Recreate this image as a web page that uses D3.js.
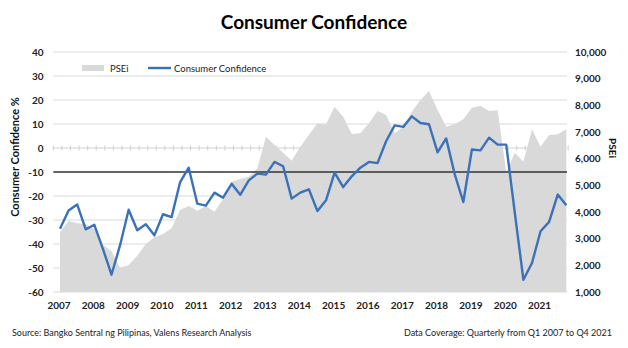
<!DOCTYPE html>
<html>
<head>
<meta charset="utf-8">
<script src="https://cdn.jsdelivr.net/npm/d3@7"></script>
<style>
  body { margin: 0; background: #fff; }
  svg { font-family: Lato, "Open Sans", sans-serif; }
</style>
</head>
<body>
<svg id="chart" width="628" height="348"></svg>
<script>
// quarterly data, Q1 2007 .. Q4 2021
var years = ["2007","2008","2009","2010","2011","2012","2013","2014","2015","2016","2017","2018","2019","2020","2021"];

var confidence = [
  -33.6, -26, -23.5, -33.9,
  -32, -42, -52.8, -40.5,
  -25.7, -34.3, -31.8, -36.4,
  -27.6, -28.8, -14.2, -8.2,
  -23.2, -24, -18.6, -20.7,
  -14.9, -19.5, -13.5, -10.7,
  -11.1, -5.8, -7.6, -21.1,
  -18.6, -17.2, -26.3, -21.8,
  -10.3, -16.3, -11.8, -8.2,
  -5.8, -6.3, 2.8, 9.4,
  8.8, 13.2, 10.4, 9.9,
  -1.8, 4.0, -11, -22.5,
  -0.6, -1, 4.3, 1.4,
  1.4, -27, -54.9, -47.9,
  -34.7, -30.8, -19.4, -23.9
];

var psei = [
  3250, 3662, 3575, 3550,
  3362, 2762, 2537, 1913,
  2012, 2362, 2800, 3050,
  3175, 3387, 4075, 4225,
  4050, 4225, 4012, 4475,
  5137, 5237, 5325, 5637,
  6825, 6512, 6225, 5925,
  6450, 6887, 7325, 7287,
  7950, 7575, 6925, 6950,
  7325, 7787, 7637, 6950,
  7200, 7762, 8200, 8537,
  7825, 7200, 7287, 7475,
  7912, 7987, 7787, 7812,
  5500, 6225, 5887, 7100,
  6450, 6887, 6912, 7100
];

var leftTicks = [40, 30, 20, 10, 0, -10, -20, -30, -40, -50, -60];
var rightTicks = [1000, 2000, 3000, 4000, 5000, 6000, 7000, 8000, 9000, 10000];

var svg = d3.select("#chart");

var x = d3.scaleLinear().domain([0, confidence.length - 1]).range([60, 566.3]);
var yL = d3.scaleLinear().domain([-60, 40]).range([292, 52]);
var yR = d3.scaleLinear().domain([1000, 10000]).range([292, 52]);
var gridX0 = 53.3, gridX1 = 567;

// gridlines
svg.append("g").selectAll("line")
  .data(leftTicks.filter(function(d){ return d != 0 && d != -10; }))
  .enter().append("line")
  .attr("x1", gridX0).attr("x2", gridX1)
  .attr("y1", function(d){ return yL(d); }).attr("y2", function(d){ return yL(d); })
  .attr("stroke", "#d9d9d9").attr("stroke-width", 1);

// zero line with quarterly tick marks
svg.append("line")
  .attr("x1", gridX0).attr("x2", gridX1)
  .attr("y1", yL(0)).attr("y2", yL(0))
  .attr("stroke", "#d0d0d0").attr("stroke-width", 1);
var step = (x(1) - x(0));
svg.append("g").selectAll("line")
  .data(d3.range(confidence.length + 1))
  .enter().append("line")
  .attr("x1", function(d){ return gridX0 + d * step; })
  .attr("x2", function(d){ return gridX0 + d * step; })
  .attr("y1", yL(0) - 2.5).attr("y2", yL(0) + 2.5)
  .attr("stroke", "#d0d0d0").attr("stroke-width", 1);

// PSEi area
var area = d3.area()
  .x(function(d, i){ return x(i); })
  .y0(yR(1000))
  .y1(function(d){ return yR(d); });
svg.append("path")
  .datum(psei)
  .attr("d", area)
  .attr("fill", "#d9d9d9");

// -10 reference line
svg.append("line")
  .attr("x1", gridX0).attr("x2", gridX1)
  .attr("y1", yL(-10)).attr("y2", yL(-10))
  .attr("stroke", "#333").attr("stroke-width", 1.3);

// consumer confidence line
var line = d3.line()
  .x(function(d, i){ return x(i); })
  .y(function(d){ return yL(d); });
svg.append("path")
  .datum(confidence)
  .attr("d", line)
  .attr("fill", "none")
  .attr("stroke", "#3a72b9")
  .attr("stroke-width", 2.4)
  .attr("stroke-linejoin", "round");

// axes labels
svg.append("g").selectAll("text")
  .data(leftTicks).enter().append("text")
  .attr("x", 43.5).attr("y", function(d){ return yL(d) + 3.5; })
  .attr("text-anchor", "end")
  .attr("font-size", 10).attr("font-weight", "bold").attr("fill", "#222")
  .text(function(d){ return d; });

svg.append("g").selectAll("text")
  .data(rightTicks).enter().append("text")
  .attr("x", 575).attr("y", function(d){ return yR(d) + 3.5; })
  .attr("font-size", 10).attr("font-weight", "bold").attr("fill", "#222")
  .text(function(d){ return d3.format(",")(d); });

svg.append("g").selectAll("text")
  .data(years).enter().append("text")
  .attr("x", function(d, i){ return x(i * 4) - 1; })
  .attr("y", 309)
  .attr("text-anchor", "middle")
  .attr("font-size", 10).attr("font-weight", "bold").attr("fill", "#222")
  .text(function(d){ return d; });

// titles
svg.append("text")
  .attr("x", 314).attr("y", 29)
  .attr("text-anchor", "middle")
  .attr("font-size", 19).attr("font-weight", "bold").attr("fill", "#000")
  .text("Consumer Confidence");

svg.append("text")
  .attr("transform", "translate(19,157) rotate(-90)")
  .attr("text-anchor", "middle")
  .attr("font-size", 11).attr("font-weight", "bold").attr("fill", "#111")
  .text("Consumer Confidence  %");

svg.append("text")
  .attr("transform", "translate(609,148) rotate(90)")
  .attr("text-anchor", "middle")
  .attr("font-size", 10).attr("font-weight", "bold").attr("fill", "#111")
  .text("PSEi");

// legend
var lg = svg.append("g");
lg.append("rect").attr("x", 82).attr("y", 65).attr("width", 22).attr("height", 6).attr("fill", "#d9d9d9");
lg.append("text").attr("x", 110).attr("y", 71.5).attr("font-size", 9.5).attr("fill", "#222").text("PSEi");
lg.append("line").attr("x1", 148).attr("x2", 171).attr("y1", 68).attr("y2", 68)
  .attr("stroke", "#3a72b9").attr("stroke-width", 2.4);
lg.append("text").attr("x", 174).attr("y", 71.5).attr("font-size", 9.5).attr("fill", "#222").text("Consumer Confidence");

// footer
svg.append("text").attr("x", 12).attr("y", 336).attr("font-size", 9).attr("fill", "#222")
  .text("Source: Bangko Sentral ng Pilipinas, Valens Research Analysis");
svg.append("text").attr("x", 612).attr("y", 336).attr("text-anchor", "end").attr("font-size", 9).attr("fill", "#222")
  .text("Data Coverage:  Quarterly from Q1 2007 to Q4 2021");
</script>
</body>
</html>
